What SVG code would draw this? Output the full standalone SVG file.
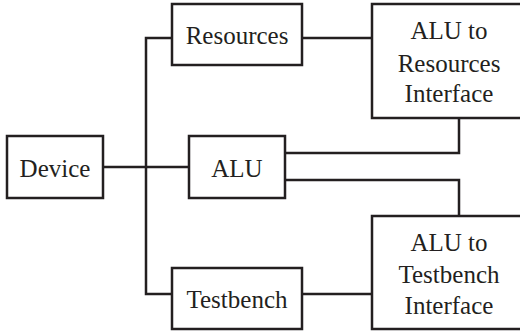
<svg xmlns="http://www.w3.org/2000/svg" width="520" height="332" viewBox="0 0 520 332">
<style>
.box{fill:#fff;stroke:#231f20;stroke-width:2.5}
text{font-family:"Liberation Serif","Times New Roman",serif;font-size:25px;fill:#231f20;text-anchor:middle}
#connectors path{fill:none;stroke:#231f20;stroke-width:2.5}
</style>
<rect width="520" height="332" fill="#fff"/>
<g id="connectors">
<path d="M103,167 H189"/>
<path d="M172,38 H146 V294 H172"/>
<path d="M302,38 H372"/>
<path d="M285,153 H459 V118"/>
<path d="M285,180 H459 V216"/>
<path d="M302,294 H372"/>
</g>
<g id="device"><rect class="box" x="7" y="136" width="96" height="62"/><text x="55" y="177">Device</text></g>
<g id="resources"><rect class="box" x="172" y="4" width="130" height="61"/><text x="237" y="44">Resources</text></g>
<g id="alu"><rect class="box" x="189" y="136" width="96" height="62"/><text x="237" y="177">ALU</text></g>
<g id="testbench"><rect class="box" x="172" y="268" width="130" height="61"/><text x="237" y="308">Testbench</text></g>
<g id="alu-res-if"><rect class="box" x="372" y="4" width="155" height="114"/><text x="449" y="39">ALU to</text><text x="449" y="72">Resources</text><text x="449" y="102">Interface</text></g>
<g id="alu-tb-if"><rect class="box" x="372" y="216" width="155" height="113"/><text x="449" y="251">ALU to</text><text x="449" y="283">Testbench</text><text x="449" y="314">Interface</text></g>
</svg>
